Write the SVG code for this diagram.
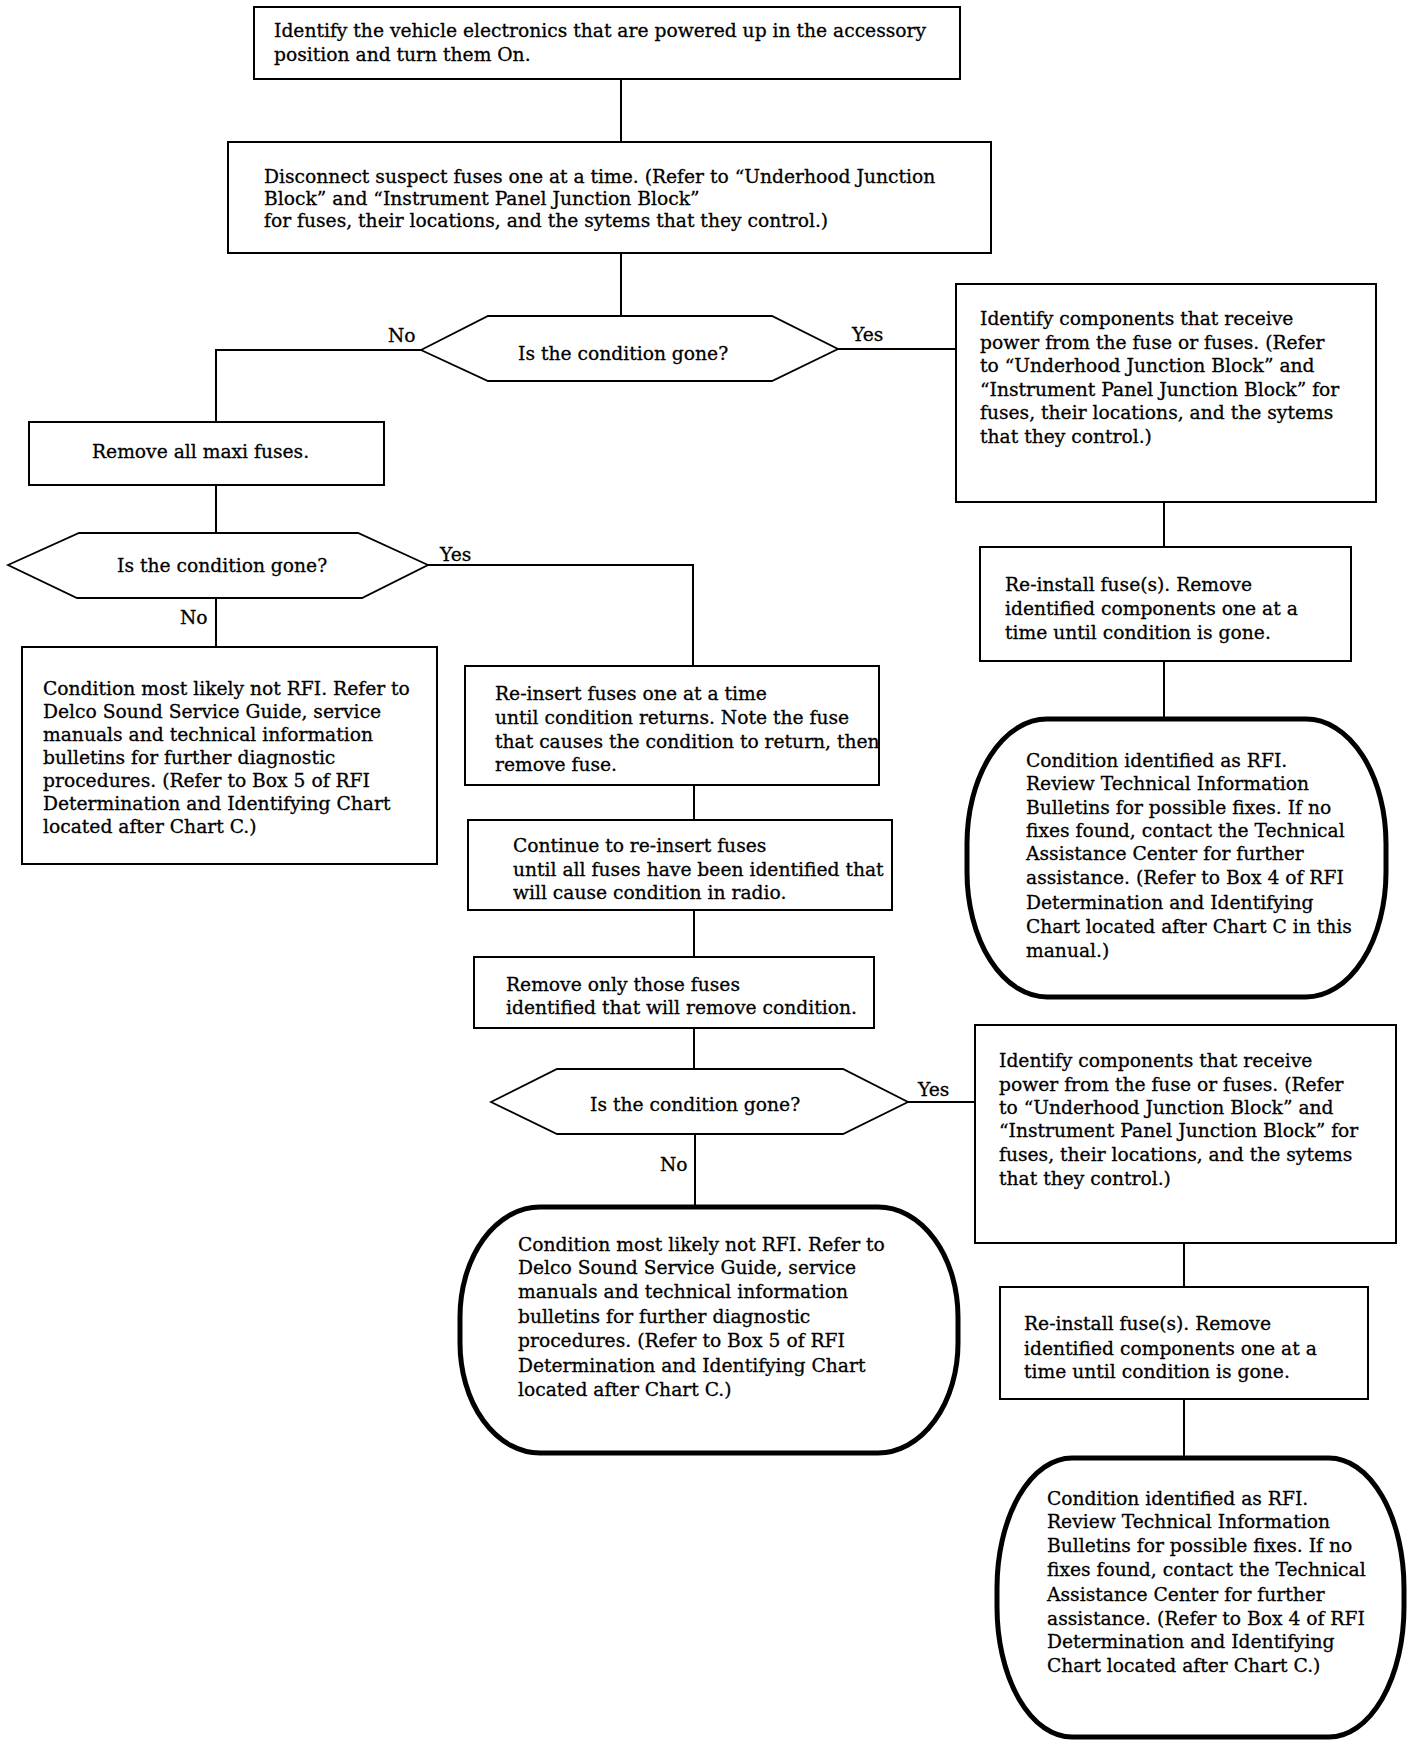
<svg xmlns="http://www.w3.org/2000/svg" width="1424" height="1746" viewBox="0 0 1424 1746">
<style>
.box{fill:#fff;stroke:#000;stroke-width:2}
.dia{fill:#fff;stroke:#000;stroke-width:1.8}
.term{fill:#fff;stroke:#000;stroke-width:5}
.conn{fill:none;stroke:#000;stroke-width:2}
text{font-family:"DejaVu Serif","Liberation Serif",serif;font-size:18.7px;fill:#000;stroke:#000;stroke-width:0.3}
</style>
<rect width="1424" height="1746" fill="#fff"/>
<g id="connectors">
<line class="conn" x1="621" y1="79" x2="621" y2="142"/>
<line class="conn" x1="621" y1="253" x2="621" y2="316"/>
<polyline class="conn" points="421,350 216,350 216,422"/>
<line class="conn" x1="838" y1="349" x2="956" y2="349"/>
<line class="conn" x1="1164" y1="502" x2="1164" y2="547"/>
<line class="conn" x1="1164" y1="661" x2="1164" y2="719"/>
<line class="conn" x1="216" y1="485" x2="216" y2="533"/>
<polyline class="conn" points="428,565 693,565 693,666"/>
<line class="conn" x1="216" y1="598" x2="216" y2="647"/>
<line class="conn" x1="694" y1="785" x2="694" y2="820"/>
<line class="conn" x1="694" y1="910" x2="694" y2="957"/>
<line class="conn" x1="694" y1="1028" x2="694" y2="1069"/>
<line class="conn" x1="908" y1="1102" x2="975" y2="1102"/>
<line class="conn" x1="695" y1="1134" x2="695" y2="1206"/>
<line class="conn" x1="1184" y1="1243" x2="1184" y2="1287"/>
<line class="conn" x1="1184" y1="1399" x2="1184" y2="1458"/>
<text x="388" y="342">No</text>
<text x="852" y="341">Yes</text>
<text x="440" y="561">Yes</text>
<text x="180" y="624">No</text>
<text x="918" y="1096">Yes</text>
<text x="660" y="1171">No</text>
</g>
<g id="n1">
<rect class="box" x="254" y="7" width="706" height="72"/>
<text x="274" y="37">Identify the vehicle electronics that are powered up in the accessory</text>
<text x="274" y="61">position and turn them On.</text>
</g>
<g id="n2">
<rect class="box" x="228" y="142" width="763" height="111"/>
<text x="264" y="183">Disconnect suspect fuses one at a time. (Refer to “Underhood Junction</text>
<text x="264" y="205">Block” and “Instrument Panel Junction Block”</text>
<text x="264" y="227">for fuses, their locations, and the sytems that they control.)</text>
</g>
<g id="d1">
<polygon class="dia" points="421,350 488,316 772,316 838,349 772,381 488,381"/>
<text x="518" y="360">Is the condition gone?</text>
</g>
<g id="n3">
<rect class="box" x="956" y="284" width="420" height="218"/>
<text x="980" y="325">Identify components that receive</text>
<text x="980" y="349">power from the fuse or fuses. (Refer</text>
<text x="980" y="372">to “Underhood Junction Block” and</text>
<text x="980" y="396">“Instrument Panel Junction Block” for</text>
<text x="980" y="419">fuses, their locations, and the sytems</text>
<text x="980" y="443">that they control.)</text>
</g>
<g id="n4">
<rect class="box" x="980" y="547" width="371" height="114"/>
<text x="1005" y="591">Re-install fuse(s). Remove</text>
<text x="1005" y="615">identified components one at a</text>
<text x="1005" y="639">time until condition is gone.</text>
</g>
<g id="t1">
<rect class="term" x="967" y="719" width="419" height="278" rx="80" ry="125"/>
<text x="1026" y="767">Condition identified as RFI.</text>
<text x="1026" y="790">Review Technical Information</text>
<text x="1026" y="814">Bulletins for possible fixes. If no</text>
<text x="1026" y="837">fixes found, contact the Technical</text>
<text x="1026" y="860">Assistance Center for further</text>
<text x="1026" y="884">assistance. (Refer to Box 4 of RFI</text>
<text x="1026" y="909">Determination and Identifying</text>
<text x="1026" y="933">Chart located after Chart C in this</text>
<text x="1026" y="957">manual.)</text>
</g>
<g id="n5">
<rect class="box" x="29" y="422" width="355" height="63"/>
<text x="92" y="458">Remove all maxi fuses.</text>
</g>
<g id="d2">
<polygon class="dia" points="8,565 79,533 358,533 428,565 362,598 77,598"/>
<text x="117" y="572">Is the condition gone?</text>
</g>
<g id="n6">
<rect class="box" x="22" y="647" width="415" height="217"/>
<text x="43" y="695">Condition most likely not RFI. Refer to</text>
<text x="43" y="718">Delco Sound Service Guide, service</text>
<text x="43" y="741">manuals and technical information</text>
<text x="43" y="764">bulletins for further diagnostic</text>
<text x="43" y="787">procedures. (Refer to Box 5 of RFI</text>
<text x="43" y="810">Determination and Identifying Chart</text>
<text x="43" y="833">located after Chart C.)</text>
</g>
<g id="n7">
<rect class="box" x="465" y="666" width="414" height="119"/>
<text x="495" y="700">Re-insert fuses one at a time</text>
<text x="495" y="724">until condition returns. Note the fuse</text>
<text x="495" y="748">that causes the condition to return, then</text>
<text x="495" y="771">remove fuse.</text>
</g>
<g id="n8">
<rect class="box" x="468" y="820" width="424" height="90"/>
<text x="513" y="852">Continue to re-insert fuses</text>
<text x="513" y="876">until all fuses have been identified that</text>
<text x="513" y="899">will cause condition in radio.</text>
</g>
<g id="n9">
<rect class="box" x="474" y="957" width="400" height="71"/>
<text x="506" y="991">Remove only those fuses</text>
<text x="506" y="1014">identified that will remove condition.</text>
</g>
<g id="d3">
<polygon class="dia" points="491,1102 557,1069 843,1069 908,1102 843,1134 557,1134"/>
<text x="590" y="1111">Is the condition gone?</text>
</g>
<g id="t2">
<rect class="term" x="460" y="1207" width="498" height="246" rx="80" ry="110"/>
<text x="518" y="1251">Condition most likely not RFI. Refer to</text>
<text x="518" y="1274">Delco Sound Service Guide, service</text>
<text x="518" y="1298">manuals and technical information</text>
<text x="518" y="1323">bulletins for further diagnostic</text>
<text x="518" y="1347">procedures. (Refer to Box 5 of RFI</text>
<text x="518" y="1372">Determination and Identifying Chart</text>
<text x="518" y="1396">located after Chart C.)</text>
</g>
<g id="n10">
<rect class="box" x="975" y="1025" width="421" height="218"/>
<text x="999" y="1067">Identify components that receive</text>
<text x="999" y="1091">power from the fuse or fuses. (Refer</text>
<text x="999" y="1114">to “Underhood Junction Block” and</text>
<text x="999" y="1137">“Instrument Panel Junction Block” for</text>
<text x="999" y="1161">fuses, their locations, and the sytems</text>
<text x="999" y="1185">that they control.)</text>
</g>
<g id="n11">
<rect class="box" x="1000" y="1287" width="368" height="112"/>
<text x="1024" y="1330">Re-install fuse(s). Remove</text>
<text x="1024" y="1355">identified components one at a</text>
<text x="1024" y="1378">time until condition is gone.</text>
</g>
<g id="t3">
<rect class="term" x="997" y="1458" width="407" height="279" rx="75" ry="130"/>
<text x="1047" y="1505">Condition identified as RFI.</text>
<text x="1047" y="1528">Review Technical Information</text>
<text x="1047" y="1552">Bulletins for possible fixes. If no</text>
<text x="1047" y="1576">fixes found, contact the Technical</text>
<text x="1047" y="1601">Assistance Center for further</text>
<text x="1047" y="1625">assistance. (Refer to Box 4 of RFI</text>
<text x="1047" y="1648">Determination and Identifying</text>
<text x="1047" y="1672">Chart located after Chart C.)</text>
</g>
</svg>
